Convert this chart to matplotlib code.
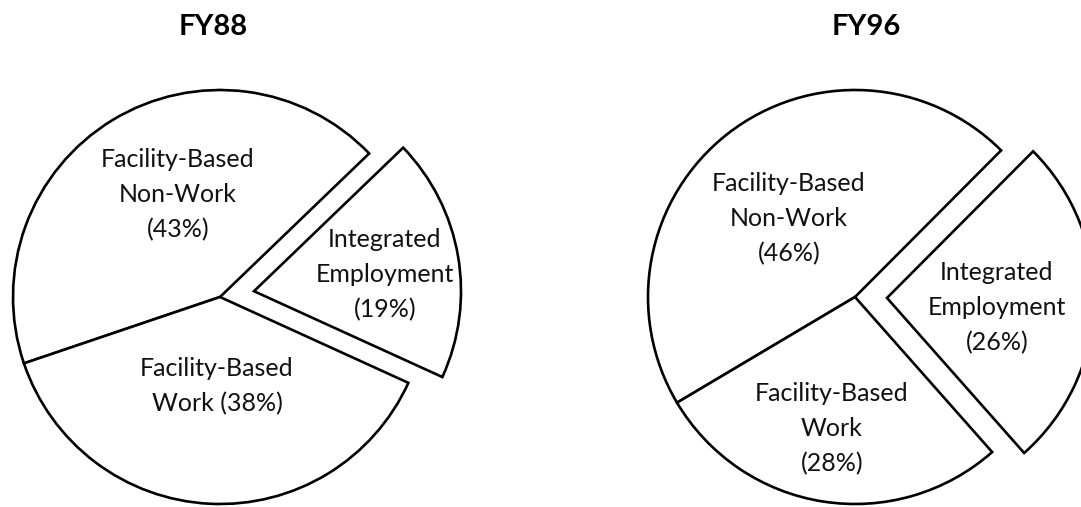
import matplotlib.pyplot as plt

# data
years = ['FY88', 'FY96']
labels_88 = ['Integrated\nEmployment\n(19%)', 'Facility-Based\nNon-Work\n(43%)', 'Facility-Based\nWork (38%)']
labels_96 = ['Integrated\nEmployment\n(26%)', 'Facility-Based\nNon-Work\n(46%)', 'Facility-Based\nWork\n(28%)']
share_88 = [19, 43, 38]
share_96 = [26, 46, 28]

W, H = 1081, 507
R = 207

plt.rcParams['font.family'] = ['Lato', 'DejaVu Sans']

fig = plt.figure(figsize=(W / 100, H / 100), dpi=100)
ax = fig.add_axes([0, 0, 1, 1])

# (center, startangle, explode of first wedge, title pos, label positions) in pixel coords
charts = [
    (share_88, labels_88, (220, H - 297), -24.5, 34.5, (213, 27),
     [(385, 275), (178, 195), (217, 386)]),
    (share_96, labels_96, (855, H - 297), -48.5, 32, (866, 27),
     [(997, 308), (789, 219), (832, 429)]),
]

for (vals, labs, c, start, ex, tpos, lpos), yr in zip(charts, years):
    ax.pie(vals, center=c, radius=R, startangle=start, counterclock=True,
           explode=[ex, 0, 0], frame=True,
           wedgeprops=dict(facecolor='white', edgecolor='black', linewidth=1.9))
    for lab, (lx, ly) in zip(labs, lpos):
        ax.text(lx, H - ly, lab, ha='center', va='center', fontsize=18,
                linespacing=1.62, color='#111111')
    ax.text(tpos[0], H - tpos[1], yr, ha='center', va='center',
            fontsize=21, fontweight='bold')

ax.set_xlim(0, W)
ax.set_ylim(0, H)
ax.set_aspect('equal')
ax.axis('off')
fig.savefig('out.png', dpi=100, facecolor='white')
